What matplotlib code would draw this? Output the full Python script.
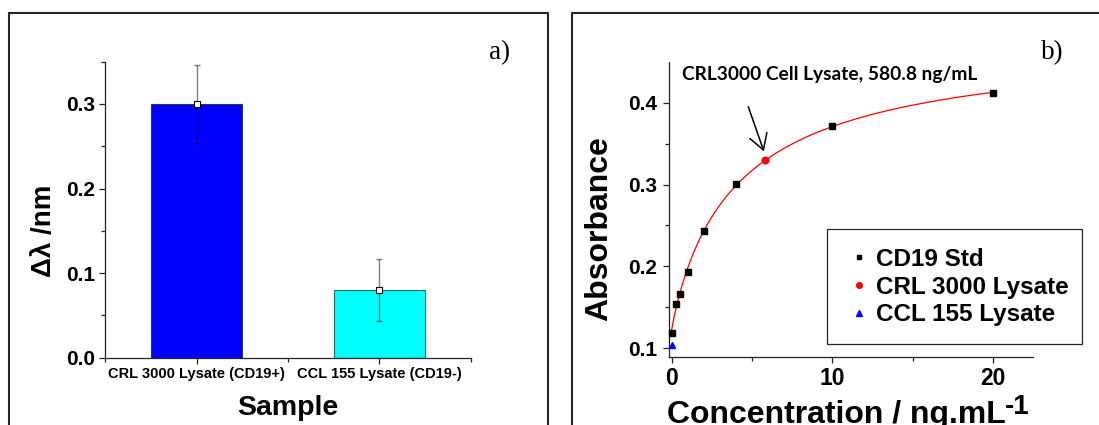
import numpy as np
import matplotlib
matplotlib.use("Agg")
import matplotlib.pyplot as plt
from matplotlib.patches import Rectangle
from matplotlib.ticker import MultipleLocator, FixedLocator

# ---------------- data ----------------
# panel a
sample_labels = ["CRL 3000 Lysate (CD19+)", "CCL 155 Lysate (CD19-)"]
shift_values = [0.300, 0.080]
shift_errors = [0.046, 0.037]
bar_colors = ["#0000ff", "#00ffff"]

# panel b
std_conc = [0, 0.25, 0.5, 1, 2, 4, 10, 20]
std_abs = [0.119, 0.154, 0.166, 0.193, 0.243, 0.301, 0.371, 0.412]
crl_conc = [5.808]
crl_abs = [0.330]
ccl_conc = [0.0]
ccl_abs = [0.104]

# ---------------- fit (4-parameter logistic to the standards) ----------------
xs = np.asarray(std_conc, float)
ys = np.asarray(std_abs, float)
best = None
for c in np.logspace(-0.5, 2, 300):
    for b in np.linspace(0.4, 1.6, 121):
        g = 1.0 / (1.0 + (xs / c) ** b)
        A = np.column_stack([g, 1 - g])
        coef, *_ = np.linalg.lstsq(A, ys, rcond=None)
        r = np.sum((A @ coef - ys) ** 2)
        if best is None or r < best[0]:
            best = (r, c, b, coef)
_, c_fit, b_fit, (a_fit, d_fit) = best
x_fit = np.linspace(0, max(std_conc), 400)
g_fit = 1.0 / (1.0 + (x_fit / c_fit) ** b_fit)
y_fit = a_fit * g_fit + d_fit * (1 - g_fit)

# ---------------- figure ----------------
W, H = 1099, 425
fig = plt.figure(figsize=(W / 100, H / 100), dpi=100)
SANS = "Liberation Sans"
SERIF = "Liberation Serif"
SPINE = "#222222"


def fx(px):
    return px / W


def fy(py):
    return 1 - py / H


# panel frames
for left, right in [(8.6, 548.0), (572.4, 1110.0)]:
    fig.add_artist(Rectangle((fx(left), fy(440)), fx(right - left), (440 - 13.3) / H,
                             transform=fig.transFigure, fill=False,
                             edgecolor="#262626", linewidth=1.5, clip_on=False))

axa = fig.add_axes([fx(105.4), fy(357.7), fx(470.7 - 105.4), (357.7 - 61.7) / H])
axb = fig.add_axes([fx(669.2), fy(357.3), fx(1033.3 - 669.2), (357.3 - 61.7) / H])

for ax in (axa, axb):
    ax.spines["top"].set_visible(False)
    ax.spines["right"].set_visible(False)
    for s in ("left", "bottom"):
        ax.spines[s].set_color(SPINE)
        ax.spines[s].set_linewidth(0.9)
    ax.tick_params(which="both", direction="out", color=SPINE, width=0.9)
    ax.tick_params(which="major", length=4.5)
    ax.tick_params(which="minor", length=2.6)
    ax.patch.set_visible(False)

# ---------------- panel a ----------------
pos = np.arange(1, len(shift_values) + 1)
axa.bar(pos, shift_values, width=0.5, color=bar_colors,
        edgecolor=(0, 0, 0, 0.6), linewidth=0.8, zorder=2)
axa.errorbar(pos, shift_values, yerr=shift_errors, fmt="none",
             ecolor=(0, 0, 0, 0.5), elinewidth=1.0, capsize=2.5, capthick=1.0, zorder=3)
axa.plot(pos, shift_values, "s", mfc="white", mec="black", ms=3.8, mew=0.8,
         zorder=4, clip_on=False)
axa.set_xlim(0.5, 2.5)
axa.set_ylim(0, 0.35)
axa.set_xticks(pos)
axa.set_xticklabels(sample_labels, fontfamily=SANS, fontweight="bold", fontsize=10.5)
axa.xaxis.set_minor_locator(FixedLocator([0.5, 1.5, 2.5]))
axa.yaxis.set_major_locator(MultipleLocator(0.1))
axa.yaxis.set_minor_locator(MultipleLocator(0.05))
axa.tick_params(axis="x", which="major", pad=2.5)
axa.tick_params(axis="y", which="major", pad=3)
for t in axa.get_yticklabels():
    t.set_fontfamily(SANS)
    t.set_fontweight("bold")
    t.set_fontsize(15)
axa.set_ylabel("\u0394\u03bb /nm", fontfamily=SANS, fontweight="bold", fontsize=20, va="center")
axa.yaxis.set_label_coords((43.8 - 105.4) / (470.7 - 105.4), (357.7 - 231) / 296.0)
axa.set_xlabel("Sample", fontfamily=SANS, fontweight="bold", fontsize=20.5, va="center")
axa.xaxis.set_label_coords(0.5, (357.7 - 408) / 296.0)
fig.text(fx(500), fy(52.5), "a)", fontfamily=SERIF, fontsize=19.5, ha="center", va="center")

# ---------------- panel b ----------------
axb.plot(x_fit, y_fit, color="#ff0000", lw=0.9, zorder=2)
axb.plot(std_conc, std_abs, "s", color="black", ms=4.2, zorder=3, label="CD19 Std", clip_on=False)
axb.plot(crl_conc, crl_abs, "o", color="#ff0000", ms=4.8, zorder=3, label="CRL 3000 Lysate")
axb.plot(ccl_conc, ccl_abs, "^", color="#0000ff", ms=4.8, zorder=3, label="CCL 155 Lysate", clip_on=False)
axb.set_xlim(-0.15, 22.5)
axb.set_ylim(0.089, 0.45)
axb.xaxis.set_major_locator(FixedLocator([0, 10, 20]))
axb.xaxis.set_minor_locator(FixedLocator([5, 15]))
axb.yaxis.set_major_locator(FixedLocator([0.1, 0.2, 0.3, 0.4]))
axb.yaxis.set_minor_locator(FixedLocator([0.15, 0.25, 0.35]))
axb.set_yticklabels(["0.1", "0.2", "0.3", "0.4"])
axb.tick_params(axis="x", which="major", pad=2.5)
axb.tick_params(axis="y", which="major", pad=4)
for t in axb.get_xticklabels():
    t.set_fontfamily(SANS)
    t.set_fontweight("bold")
    t.set_fontsize(16.5)
for t in axb.get_yticklabels():
    t.set_fontfamily(SANS)
    t.set_fontweight("bold")
    t.set_fontsize(15)
axb.set_ylabel("Absorbance", fontfamily=SANS, fontweight="bold", fontsize=23, va="center")
axb.yaxis.set_label_coords((599.5 - 669.2) / (1033.3 - 669.2), (357.3 - 229) / 295.6)
fig.text(fx(666.7), fy(423.0), "Concentration / ng.mL", fontfamily=SANS, fontweight="bold",
         fontsize=23, ha="left", va="baseline")
fig.text(fx(1005), fy(413.5), "-1", fontfamily=SANS, fontweight="bold",
         fontsize=20, ha="left", va="baseline")
fig.text(fx(1052.5), fy(53), "b)", fontfamily=SERIF, fontsize=19.5, ha="center", va="center")

axb.text(0.62, 0.428, "CRL3000 Cell Lysate, 580.8 ng/mL", fontfamily="Lato",
         fontweight="bold", fontsize=13.8, ha="left", va="baseline", clip_on=False)
axb.annotate("", xy=(5.74, 0.3405), xytext=(4.77, 0.395),
             arrowprops=dict(arrowstyle="->,head_length=1.1,head_width=0.65", lw=1.1,
                             color="black", shrinkA=0, shrinkB=0, mutation_scale=10))

# legend box + entries
axb.add_patch(Rectangle(((827.3 - 669.2) / 364.1, (357.3 - 344) / 295.6),
                        (1081.5 - 827.3) / 364.1, (344 - 229) / 295.6,
                        transform=axb.transAxes, fill=False, edgecolor="#262626",
                        linewidth=0.9, clip_on=False, zorder=5))
leg = axb.legend(loc="upper left", bbox_to_anchor=((852 - 669.2) / 364.1, (357.3 - 248) / 295.6),
                 frameon=False, borderpad=0, borderaxespad=0, handlelength=0.6,
                 handletextpad=0.4, labelspacing=0.19, markerscale=0.85,
                 prop={"family": SANS, "weight": "bold", "size": 17.5})

fig.savefig("out.png", dpi=100)
